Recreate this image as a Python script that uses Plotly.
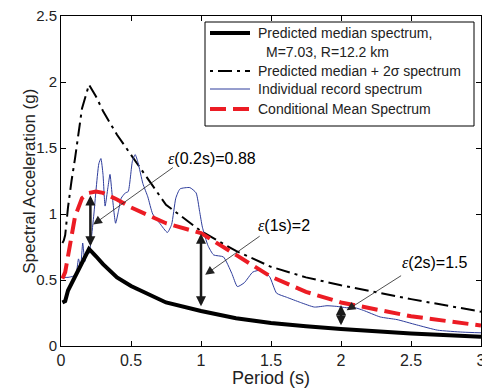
import plotly.graph_objects as go

# ---------------- data ----------------
periods = [0.01, 0.02, 0.03, 0.05, 0.075, 0.1, 0.15, 0.2, 0.25, 0.3, 0.4, 0.5,
           0.75, 1.0, 1.25, 1.5, 1.75, 2.0, 2.5, 3.0]
median_sa = [0.33, 0.335, 0.34, 0.42, 0.475, 0.53, 0.64, 0.735, 0.68, 0.62, 0.52, 0.455,
             0.33, 0.265, 0.21, 0.175, 0.15, 0.128, 0.095, 0.07]
plus2sigma_sa = [0.78, 0.80, 0.84, 1.05, 1.25, 1.42, 1.80, 1.98, 1.89, 1.78, 1.60, 1.45,
                 1.07, 0.87, 0.72, 0.60, 0.52, 0.46, 0.355, 0.26]
cms_sa = [0.51, 0.53, 0.56, 0.68, 0.85, 0.98, 1.12, 1.16, 1.17, 1.16, 1.11, 1.05,
          0.93, 0.855, 0.69, 0.525, 0.41, 0.33, 0.225, 0.155]

record_periods = [0.01, 0.05, 0.09, 0.11, 0.125, 0.14, 0.155, 0.17, 0.185, 0.2, 0.215,
                  0.235, 0.25, 0.27, 0.285, 0.3, 0.315, 0.335, 0.35, 0.365, 0.39, 0.41,
                  0.43, 0.46, 0.48, 0.51, 0.53, 0.55, 0.585, 0.62, 0.655, 0.705, 0.76,
                  0.79, 0.82, 0.85, 0.92, 0.965, 0.99, 1.01, 1.05, 1.09, 1.16, 1.22,
                  1.26, 1.31, 1.37, 1.43, 1.49, 1.54, 1.61, 1.71, 1.81, 1.90, 1.97,
                  2.04, 2.10, 2.16, 2.28, 2.40, 2.54, 2.69, 2.87, 3.0]
record_sa = [0.52, 0.52, 0.53, 0.56, 0.66, 0.60, 0.78, 0.64, 0.72, 0.70, 0.80,
             1.00, 1.18, 1.38, 1.42, 1.30, 1.06, 1.20, 1.30, 1.15, 0.93, 1.02,
             1.12, 1.16, 1.17, 1.40, 1.45, 1.39, 1.23, 1.13, 1.00, 0.93, 0.86,
             0.92, 1.12, 1.19, 1.20, 1.16, 1.02, 0.90, 0.76, 0.69, 0.675, 0.55,
             0.45, 0.48, 0.56, 0.575, 0.525, 0.40, 0.37, 0.33, 0.295, 0.305, 0.30,
             0.29, 0.29, 0.27, 0.22, 0.20, 0.16, 0.12, 0.105, 0.10]

# epsilon annotations: (period, lower SA, upper SA)
eps_periods = [0.21, 1.0, 2.0]
eps_low = [0.745, 0.29, 0.145]
eps_high = [1.14, 0.85, 0.31]
eps_labels = ["(0.2s)=0.88", "(1s)=2", "(2s)=1.5"]
eps_text_x = [1.08, 1.59, 2.67]
eps_text_y = [1.42, 0.91, 0.63]
eps_tail_x = [0.81, 1.43, 2.44]
eps_tail_y = [1.36, 0.84, 0.54]
eps_head_x = [0.23, 1.03, 2.04]
eps_head_y = [0.92, 0.54, 0.27]

x_ticks = [0, 0.5, 1, 1.5, 2, 2.5, 3]
x_tick_labels = ["0", "0.5", "1", "1.5", "2", "2.5", "3"]
y_ticks = [0, 0.5, 1, 1.5, 2, 2.5]
y_tick_labels = ["0", "0.5", "1", "1.5", "2", "2.5"]

legend_labels = ["Predicted median spectrum,", "M=7.03, R=12.2 km",
                 "Predicted median + 2σ spectrum", "Individual record spectrum",
                 "Conditional Mean Spectrum"]

RED = "#ec1c24"
BLUE = "#2e3d9c"
FONT = "Liberation Sans, Arial, Helvetica, sans-serif"

fig = go.Figure()
fig.add_trace(go.Scatter(x=periods, y=plus2sigma_sa, mode="lines",
                         line=dict(color="black", width=2, dash="14px,5px,3px,5px")))
fig.add_trace(go.Scatter(x=record_periods, y=record_sa, mode="lines",
                         line=dict(color=BLUE, width=1, shape="spline", smoothing=0.5)))
fig.add_trace(go.Scatter(x=periods, y=cms_sa, mode="lines",
                         line=dict(color=RED, width=4, dash="16px,7px")))
fig.add_trace(go.Scatter(x=periods, y=median_sa, mode="lines",
                         line=dict(color="black", width=4)))

annotations = []
for px, lo, hi in zip(eps_periods, eps_low, eps_high):
    annotations.append(dict(x=px, y=hi, ax=px, ay=lo, xref="x", yref="y",
                            axref="x", ayref="y", text="", showarrow=True,
                            arrowhead=2, arrowside="end+start", arrowsize=0.8,
                            arrowwidth=2.5, arrowcolor="#1a1a1a", standoff=0,
                            startstandoff=0))
for lab, tx, ty, ax_, ay_, hx, hy in zip(eps_labels, eps_text_x, eps_text_y,
                                          eps_tail_x, eps_tail_y, eps_head_x, eps_head_y):
    annotations.append(dict(x=hx, y=hy, ax=ax_, ay=ay_, xref="x", yref="y",
                            axref="x", ayref="y", text="", showarrow=True,
                            arrowhead=2, arrowsize=2.2, arrowwidth=0.8,
                            arrowcolor="#222222", standoff=0))
    annotations.append(dict(x=tx, y=ty, xref="x", yref="y", showarrow=False,
                            text="<span style=\"font-family:'Liberation Serif'\"><i>ε</i></span>" + lab,
                            font=dict(family=FONT, size=16, color="black")))

# axis titles
annotations.append(dict(x=0.5, y=-0.097, xref="paper", yref="paper", showarrow=False,
                        text="Period (s)", yanchor="middle",
                        font=dict(family=FONT, size=18, color="#222")))
annotations.append(dict(x=-0.104, y=0.5, xref="paper", yref="paper", showarrow=False,
                        text="Spectral Acceleration (g)", textangle=-90,
                        font=dict(family=FONT, size=17, color="#222")))

# manual legend
def px_x(p):
    return (p - 61) / 420.0

def px_y(p):
    return (346 - p) / 330.0

shapes = [dict(type="rect", xref="paper", yref="paper",
               x0=px_x(205), x1=px_x(474), y0=px_y(126), y1=px_y(22),
               line=dict(color="black", width=1), fillcolor="white", layer="above")]
legend_rows = [33, 71, 89, 109]
legend_styles = [dict(color="black", width=4),
                 dict(color="black", width=2, dash="3px,5px,14px,5px"),
                 dict(color=BLUE, width=1),
                 dict(color=RED, width=4, dash="16px,7px")]
for row, st in zip(legend_rows, legend_styles):
    shapes.append(dict(type="line", xref="paper", yref="paper",
                       x0=px_x(210), x1=px_x(250), y0=px_y(row), y1=px_y(row),
                       line=st, layer="above"))
text_rows = [33, 52, 71, 89, 109]
text_x = [256, 264, 256, 256, 256]
for lab, row, tx in zip(legend_labels, text_rows, text_x):
    annotations.append(dict(x=px_x(tx), y=px_y(row), xref="paper", yref="paper",
                            xanchor="left", yanchor="middle", showarrow=False,
                            text=lab, font=dict(family=FONT, size=14, color="#222")))

fig.update_layout(
    width=482, height=390,
    margin=dict(l=61, r=1, t=16, b=44),
    paper_bgcolor="white", plot_bgcolor="white",
    showlegend=False,
    annotations=annotations, shapes=shapes,
    font=dict(family=FONT, size=14, color="#222"),
)
fig.update_xaxes(range=[0, 3], tickvals=x_ticks, ticktext=x_tick_labels,
                 showgrid=False, zeroline=False, showline=True, linecolor="black",
                 linewidth=1, mirror="ticks", ticks="inside", ticklen=5,
                 tickcolor="black", tickfont=dict(size=16), automargin=False,
                 ticklabeloverflow="allow")
fig.update_yaxes(range=[0, 2.5], tickvals=y_ticks, ticktext=y_tick_labels,
                 showgrid=False, zeroline=False, showline=True, linecolor="black",
                 linewidth=1, mirror="ticks", ticks="inside", ticklen=5,
                 tickcolor="black", tickfont=dict(size=15), automargin=False)

fig.write_html("out.html", config={"displayModeBar": False},
               post_script="document.body.style.margin='0';document.body.style.padding='0';"
                           "document.documentElement.style.overflow='hidden';")
